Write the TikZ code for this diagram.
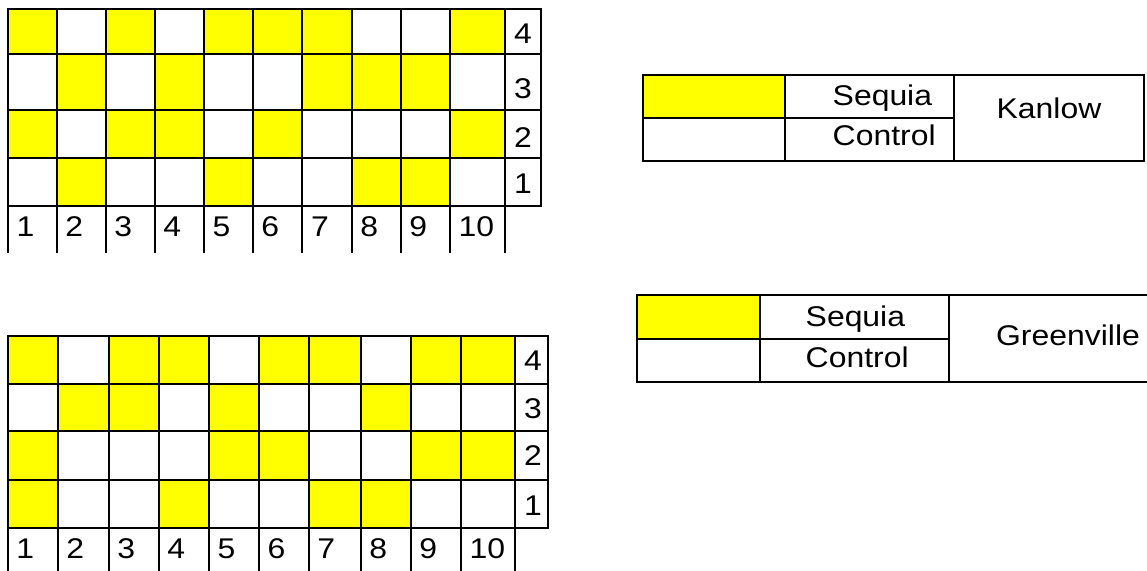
\documentclass[tikz,border=0pt]{standalone}
\usepackage{fontspec}
\setmainfont{Liberation Sans}[FakeStretch=1.12]
\definecolor{ylw}{RGB}{255,255,0}
\tikzset{
  gridline/.style={line width=2.3pt, line cap=rect, black},
  lbl/.style={anchor=base west, inner sep=0pt, font=\fontsize{28.5}{30}\selectfont},
  clbl/.style={anchor=base, inner sep=0pt, font=\fontsize{28.5}{30}\selectfont}
}
\begin{document}
\begin{tikzpicture}[x=1pt,y=-1pt]
\clip (0,0) rectangle (1147,570);
\fill[white] (0,0) rectangle (1147,570);

% ---------------- top grid (Kanlow) ----------------
\def\GX{{8,56.7,105.7,154.7,204,252.7,302.3,351.7,400.7,450,505.3,540.7}}
\def\GY{{9,54.3,110.3,158.3,206.3,252}}
\foreach \r/\cols in {0/{1,3,5,6,7,10},1/{2,4,7,8,9},2/{1,3,4,6,10},3/{2,5,8,9}}{
  \foreach \c in \cols {
    \pgfmathtruncatemacro\ci{\c-1}
    \pgfmathtruncatemacro\ri{\r+1}
    \pgfmathsetmacro\xa{\GX[\ci]}
    \pgfmathsetmacro\xb{\GX[\c]}
    \pgfmathsetmacro\ya{\GY[\r]}
    \pgfmathsetmacro\yb{\GY[\ri]}
    \fill[ylw] (\xa,\ya) rectangle (\xb,\yb);
  }
}
\foreach \i in {0,...,4}{
  \pgfmathsetmacro\yy{\GY[\i]}
  \draw[gridline] (8,\yy) -- (540.7,\yy);
}
\foreach \i in {0,...,10}{
  \pgfmathsetmacro\xx{\GX[\i]}
  \draw[gridline] (\xx,9) -- (\xx,252);
}
\draw[gridline] (540.7,9) -- (540.7,206.3);
\foreach \i in {1,...,10}{
  \pgfmathtruncatemacro\ci{\i-1}
  \pgfmathsetmacro\xx{\GX[\ci]+8.5}
  \node[lbl] (Tn\i) at (\xx,236) {\i};
}
\foreach \n/\yy in {4/43,3/98,2/147,1/193}{
  \node[lbl] (Tr\n) at (513.8,\yy) {\n};
}

% ---------------- bottom grid (Greenville) ----------------
\def\HX{{7.7,57.7,108.7,158.7,209,259,308.7,360.7,410.7,461,515,548.3}}
\def\HY{{336,383.7,430.7,479.7,527.7,572}}
\foreach \r/\cols in {0/{1,3,4,6,7,9,10},1/{2,3,5,8},2/{1,5,6,9,10},3/{1,4,7,8}}{
  \foreach \c in \cols {
    \pgfmathtruncatemacro\ci{\c-1}
    \pgfmathtruncatemacro\ri{\r+1}
    \pgfmathsetmacro\xa{\HX[\ci]}
    \pgfmathsetmacro\xb{\HX[\c]}
    \pgfmathsetmacro\ya{\HY[\r]}
    \pgfmathsetmacro\yb{\HY[\ri]}
    \fill[ylw] (\xa,\ya) rectangle (\xb,\yb);
  }
}
\foreach \i in {0,...,4}{
  \pgfmathsetmacro\yy{\HY[\i]}
  \draw[gridline] (7.7,\yy) -- (548.3,\yy);
}
\foreach \i in {0,...,10}{
  \pgfmathsetmacro\xx{\HX[\i]}
  \draw[gridline] (\xx,336) -- (\xx,575);
}
\draw[gridline] (548.3,336) -- (548.3,527.7);
\foreach \i in {1,...,10}{
  \pgfmathtruncatemacro\ci{\i-1}
  \pgfmathsetmacro\xx{\HX[\ci]+8.5}
  \node[lbl] (Bn\i) at (\xx,558) {\i};
}
\foreach \n/\yy in {4/370.7,3/418.3,2/465.7,1/515}{
  \node[lbl] (Br\n) at (523.8,\yy) {\n};
}

% ---------------- legend Kanlow ----------------
\fill[ylw] (642.7,75) rectangle (785,117.7);
\draw[gridline] (642.7,75) rectangle (1144.3,161);
\draw[gridline] (785,75) -- (785,161);
\draw[gridline] (954.3,75) -- (954.3,161);
\draw[gridline] (642.7,117.7) -- (954.3,117.7);
\node[lbl] (kS) at (832.5,105) {Sequia};
\node[lbl] (kC) at (832.5,145.7) {Control};
\node[clbl] (kK) at (1049,118.7) {Kanlow};

% ---------------- legend Greenville ----------------
\fill[ylw] (637.3,295) rectangle (760,339.3);
\draw[gridline] (1160,295) -- (637.3,295) -- (637.3,382) -- (1160,382);
\draw[gridline] (760,295) -- (760,382);
\draw[gridline] (949,295) -- (949,382);
\draw[gridline] (637.3,339.3) -- (949,339.3);
\node[lbl] (gS) at (805.5,326) {Sequia};
\node[lbl] (gC) at (805.5,367.3) {Control};
\node[clbl] (gG) at (1068,345.7) {Greenville};
\end{tikzpicture}
\end{document}
